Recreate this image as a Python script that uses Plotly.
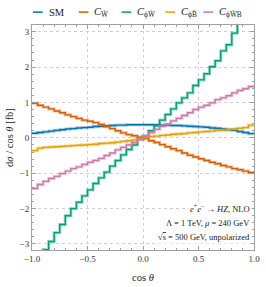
import plotly.graph_objects as go

# bin edges of cos(theta): 40 bins of width 0.05
edges = [round(-1 + 0.05 * k, 2) for k in range(41)]

sm = [0.13, 0.15, 0.17, 0.19, 0.21, 0.23, 0.25, 0.26, 0.28, 0.29,
      0.30, 0.32, 0.33, 0.34, 0.35, 0.36, 0.36, 0.37, 0.37, 0.37,
      0.37, 0.37, 0.37, 0.36, 0.36, 0.35, 0.35, 0.34, 0.33, 0.32,
      0.31, 0.30, 0.28, 0.27, 0.25, 0.23, 0.21, 0.18, 0.15, 0.12]

c_wt = [0.98, 0.92, 0.87, 0.82, 0.76, 0.71, 0.65, 0.60, 0.55, 0.50,
        0.47, 0.43, 0.38, 0.32, 0.26, 0.20, 0.14, 0.09, 0.06, 0.02,
        -0.02, -0.08, -0.13, -0.19, -0.25, -0.31, -0.36, -0.43, -0.49, -0.54,
        -0.59, -0.64, -0.69, -0.73, -0.78, -0.82, -0.87, -0.90, -0.94, -0.98]

c_phiwt = [-3.90, -3.55, -3.16, -2.93, -2.68, -2.45, -2.20, -2.00, -1.82, -1.64,
           -1.47, -1.29, -1.13, -0.97, -0.80, -0.64, -0.48, -0.33, -0.20, -0.04,
           0.05, 0.20, 0.34, 0.50, 0.66, 0.82, 0.99, 1.13, 1.27, 1.48,
           1.64, 1.81, 2.01, 2.18, 2.46, 2.63, 2.96, 3.30, 3.70, 4.10]

c_phibt = [-0.36, -0.29, -0.27, -0.26, -0.25, -0.24, -0.23, -0.22, -0.21, -0.20,
           -0.19, -0.18, -0.16, -0.15, -0.14, -0.12, -0.10, -0.08, -0.06, -0.03,
           0.02, 0.04, 0.05, 0.07, 0.08, 0.10, 0.11, 0.12, 0.14, 0.15,
           0.17, 0.18, 0.19, 0.21, 0.22, 0.24, 0.25, 0.27, 0.29, 0.36]

c_phiwtb = [-1.43, -1.32, -1.23, -1.15, -1.09, -1.01, -0.94, -0.87, -0.82, -0.75,
            -0.69, -0.64, -0.58, -0.50, -0.43, -0.34, -0.27, -0.20, -0.13, -0.05,
            0.05, 0.15, 0.24, 0.33, 0.39, 0.48, 0.55, 0.63, 0.71, 0.80,
            0.87, 0.92, 0.99, 1.08, 1.13, 1.19, 1.27, 1.34, 1.39, 1.45]

names = ["SM",
         "<i>C</i><sub>W̃</sub>",
         "<i>C</i><sub>ϕW̃</sub>",
         "<i>C</i><sub>ϕB̃</sub>",
         "<i>C</i><sub>ϕW̃B</sub>"]
series = [sm, c_wt, c_phiwt, c_phibt, c_phiwtb]
colors = ["#0072b2", "#d55e00", "#009e73", "#e69f00", "#cc79a7"]
light = ["rgba(0,114,178,0.35)", "rgba(213,94,0,0.35)", "rgba(0,158,115,0.35)",
         "rgba(230,159,0,0.35)", "rgba(204,121,167,0.35)"]

xticks = [-1.0, -0.5, 0.0, 0.5, 1.0]
xticklabels = ["−1.0", "−0.5", "0.0", "0.5", "1.0"]
yticks = [-3, -2, -1, 0, 1, 2, 3]

FONT = "Liberation Serif, DejaVu Serif, serif"
W, H = 266, 287
ML, MR, MT, MB = 32, 6, 25, 35
PW, PH = W - ML - MR, H - MT - MB

fig = go.Figure()
for name, vals, c, lc in zip(names, series, colors, light):
    y = list(vals) + [vals[-1]]
    fig.add_trace(go.Scatter(x=edges, y=y, mode="lines", line=dict(color=lc, width=3.2, shape="hv"),
                             showlegend=False, hoverinfo="skip"))
    fig.add_trace(go.Scatter(x=edges, y=y, mode="lines", name=name, showlegend=False,
                             line=dict(color=c, width=1.4, shape="hv")))

# legend drawn along the top (positions in pixels)
leg_line_x = [33, 80, 124, 169, 208]
leg_y_px = 12
def px2paper_x(px):
    return (px - ML) / PW
def px2paper_y(py):
    return (H - MB - py) / PH
for name, c, lx in zip(names, colors, leg_line_x):
    fig.add_shape(type="line", xref="paper", yref="paper",
                  x0=px2paper_x(lx), x1=px2paper_x(lx + 10),
                  y0=px2paper_y(leg_y_px), y1=px2paper_y(leg_y_px),
                  line=dict(color=c, width=1.5))
    fig.add_annotation(xref="paper", yref="paper", x=px2paper_x(lx + 14), y=px2paper_y(leg_y_px),
                       text=name, showarrow=False, xanchor="left", yanchor="middle",
                       font=dict(family=FONT, size=10.5, color="#222"))

axis_common = dict(showline=True, linecolor="#a0a0a0", linewidth=1, mirror="allticks",
                   ticks="inside", ticklen=4, tickcolor="#a0a0a0", tickwidth=0.8,
                   showgrid=True, gridcolor="#d0d0d0", griddash="dot", gridwidth=0.8,
                   zeroline=False, ticklabeloverflow="allow",
                   tickfont=dict(family=FONT, size=9, color="#333"))

fig.update_xaxes(range=[-1, 1], tickvals=xticks, ticktext=xticklabels,
                 minor=dict(dtick=0.1, ticks="inside", ticklen=2, tickcolor="#a0a0a0", showgrid=False),
                 title=dict(text="cos <i>θ</i>", font=dict(family=FONT, size=10.5, color="#222"), standoff=10),
                 **axis_common)
fig.update_yaxes(range=[-3.17, 3.19], tickvals=yticks,
                 minor=dict(dtick=0.2, ticks="inside", ticklen=2, tickcolor="#a0a0a0", showgrid=False),
                 title=dict(text="d<i>σ</i> / cos <i>θ</i> [fb]", font=dict(family=FONT, size=10.5, color="#222"),
                            standoff=3),
                 **axis_common)

ann_lines = ["<i>e</i><sup>+</sup><i>e</i><sup>−</sup> → <i>HZ</i>, NLO",
             "Λ = 1 TeV, <i>μ</i> = 240 GeV",
             "√<span style='text-decoration:overline'>s</span> = 500 GeV, unpolarized"]
ann_y = [-2.0, -2.42, -2.8]
for t, yy in zip(ann_lines, ann_y):
    fig.add_annotation(x=0.985, y=yy, xref="x", yref="y", text=t, showarrow=False,
                       xanchor="right", yanchor="middle", bgcolor="white",
                       font=dict(family=FONT, size=8.5, color="#222"))

fig.update_layout(
    width=W, height=H,
    margin=dict(l=ML, r=MR, t=MT, b=MB),
    paper_bgcolor="white", plot_bgcolor="white",
    font=dict(family=FONT, color="#222"),
    showlegend=False,
)

fig.write_html("out.html", config={"displayModeBar": False},
               post_script="document.body.style.margin='0';")
